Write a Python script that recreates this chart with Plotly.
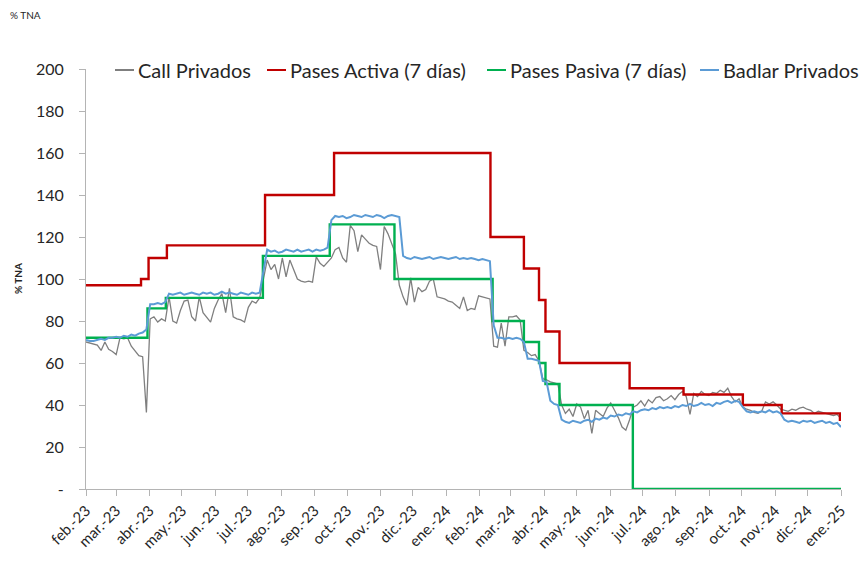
import pandas as pd
import plotly.graph_objects as go

# ---------------- data ----------------
# Call / Badlar sampled every 3.5 days from 2023-02-01 to 2025-01-01
sample_dates = pd.date_range("2023-02-01", periods=201, freq="84h")

call_privados = [
    70, 69.5, 69, 68.5, 66, 70, 66.5, 65.5, 64, 72,
    71.5, 72, 68, 66, 63.5, 63, 36.5, 81, 82, 79.5,
    81, 80, 91.5, 80, 79, 85, 89.5, 90, 82, 80,
    91.5, 84, 82, 79.5, 86, 90, 93, 84, 95.5, 82,
    81, 80.5, 79.5, 86.5, 89.5, 88.5, 91, 100, 109, 104.5,
    107, 100, 110, 101, 109, 104.5, 100, 99, 98.5, 99,
    98.5, 110.5, 107.5, 106, 108, 110, 114, 115, 110, 108,
    125.5, 123, 113, 121, 119, 117, 116, 115.5, 104.5, 125,
    121.5, 117, 112, 97, 91.5, 87.5, 100.5, 89, 96, 94,
    95, 99, 100, 91.5, 91, 90.5, 89.5, 89, 87.5, 86,
    91.5, 85, 86, 85.5, 92, 91.5, 91, 90.5, 68, 67.5,
    79, 68, 82, 82, 82.5, 80.5, 66, 65, 63.5, 64,
    61, 52.5, 52, 51, 50.5, 50, 40, 36, 38, 34.5,
    40.5, 39, 33.5, 37.5, 26.5, 37.5, 36, 34.5, 38.5, 41,
    37.5, 34, 29.5, 28, 33, 39, 40, 42, 39.5, 42.5,
    41, 43.5, 44, 42, 43, 44.5, 42.5, 45, 46.5, 44,
    35.5, 45.5, 44, 46.5, 45, 44.5, 46, 45.5, 47, 46,
    48, 44, 41.5, 43, 39, 38, 37.5, 36.5, 36, 37,
    41.5, 40.5, 41.5, 40, 38, 37.5, 37, 38, 37.5, 38.5,
    39, 38, 37.5, 36, 37, 36.5, 36, 35.5, 35, 35.5,
    33.5,
]

badlar_privados = [
    71, 70.5, 70.5, 71, 71.5, 71, 72, 72, 72.5, 72,
    73, 72.5, 73.5, 73, 74, 74.5, 76, 88, 88, 88.5,
    88, 89, 93, 92.5, 93, 93.5, 92.5, 93, 93.5, 93,
    92.5, 93.5, 93, 93.5, 92.5, 93, 94, 93, 93.5, 93,
    92.5, 93.5, 93, 92.5, 93.5, 93, 93.5, 104, 114, 113,
    113.5, 112.5, 113, 114, 113.5, 113, 114, 113, 113.5, 114,
    113, 114, 113.5, 114, 115, 128, 130, 129.5, 130, 129,
    129.5, 130.5, 130, 129.5, 130.5, 130, 129.5, 130.5, 130, 129,
    130, 130.5, 130, 129.5, 111, 110, 109.5, 110.5, 110, 109.5,
    110, 110.5, 109.5, 110, 110.5, 110, 109.5, 110, 110.5, 109.5,
    110, 109.5, 110, 109.5, 109, 109.5, 109, 108.5, 78, 72,
    72, 71.5, 72, 71.5, 72, 71.5, 70, 62, 62, 61.5,
    61, 51.5, 51, 42, 40.5, 40, 33, 32, 31.5, 32.5,
    32, 31.5, 32.5, 33, 32, 33.5, 33, 34, 33.5, 35,
    34.5, 35.5, 35, 36, 35.5, 37, 36.5, 37.5, 38, 37.5,
    38.5, 38, 39, 38.5, 39, 38.5, 39.5, 39, 40, 39.5,
    40.5, 39.5, 40, 41, 40, 40.5, 39.5, 41, 40.5, 41.5,
    42, 41, 42, 41.5, 39, 37, 36.5, 37, 36.5, 37,
    36.5, 37.5, 36.5, 37, 36, 33, 32, 32.5, 32, 31.5,
    32.5, 32, 32.5, 31.5, 32, 32.5, 31.5, 32, 31, 31.5,
    29.5,
]

# Policy rates: change dates and levels (step lines)
activa_dates = ["2023-02-01", "2023-03-24", "2023-03-31", "2023-04-17", "2023-07-17",
                "2023-09-19", "2024-02-11", "2024-03-13", "2024-03-27", "2024-04-02",
                "2024-04-15", "2024-06-19", "2024-08-08", "2024-10-02", "2024-11-07",
                "2024-12-31", "2025-01-01"]
activa_values = [97, 100, 110, 116, 140, 160, 120, 105, 90, 75, 60, 48, 45, 40, 36, 33, 33]

pasiva_dates = ["2023-02-01", "2023-03-30", "2023-04-16", "2023-07-15", "2023-09-15",
                "2023-11-14", "2024-02-13", "2024-03-13", "2024-03-27", "2024-04-02",
                "2024-04-15", "2024-06-22", "2025-01-01"]
pasiva_values = [72, 86, 91, 111, 126, 100, 80, 70, 60, 50, 40, 0, 0]

# x tick labels (monthly)
tick_dates = pd.date_range("2023-02-01", "2025-01-01", freq="MS")
month_abbr = ["ene", "feb", "mar", "abr", "may", "jun", "jul", "ago", "sep", "oct", "nov", "dic"]
tick_text = [f"{month_abbr[d.month - 1]}.-{d.strftime('%y')}" for d in tick_dates]

y_tickvals = [0, 20, 40, 60, 80, 100, 120, 140, 160, 180, 200]
y_ticktext = ["-", "20", "40", "60", "80", "100", "120", "140", "160", "180", "200"]

series_names = ["Call Privados", "Pases Activa (7 días)", "Pases Pasiva (7 días)", "Badlar Privados"]

# ---------------- figure ----------------
FONT = "Lato, Carlito, 'Open Sans', sans-serif"
TXT = "#262626"
AX = "#b4b4b4"
COLORS = ["#7f7f7f", "#c00000", "#00b050", "#5b9bd5"]

fig = go.Figure()
fig.add_trace(go.Scatter(x=sample_dates, y=call_privados, name=series_names[0],
                         mode="lines", line=dict(color=COLORS[0], width=1.3)))
fig.add_trace(go.Scatter(x=activa_dates, y=activa_values, name=series_names[1],
                         mode="lines", line=dict(color=COLORS[1], width=2.4, shape="hv")))
fig.add_trace(go.Scatter(x=pasiva_dates, y=pasiva_values, name=series_names[2],
                         mode="lines", line=dict(color=COLORS[2], width=2.4, shape="hv")))
fig.add_trace(go.Scatter(x=sample_dates, y=badlar_privados, name=series_names[3],
                         mode="lines", line=dict(color=COLORS[3], width=2)))

L, T, W, H = 86, 69, 755, 420
fig.update_layout(
    width=864, height=565,
    margin=dict(l=L, r=864 - L - W, t=T, b=565 - T - H),
    paper_bgcolor="white", plot_bgcolor="white",
    font=dict(family=FONT, color=TXT),
    showlegend=False,
)

fig.update_xaxes(
    type="date", range=["2023-02-01", "2025-01-01"],
    tickmode="array", tickvals=list(tick_dates), ticktext=tick_text,
    tickangle=-45, tickfont=dict(size=15, color=TXT, family=FONT),
    showgrid=False, zeroline=False, automargin=False,
    showline=True, linecolor=AX, linewidth=1,
    ticks="outside", ticklen=6, tickcolor=AX,
)
fig.update_yaxes(
    range=[0, 200], tickmode="array", tickvals=y_tickvals, ticktext=y_ticktext,
    tickfont=dict(size=16, color=TXT, family=FONT),
    showgrid=False, zeroline=False, automargin=False,
    showline=True, linecolor=AX, linewidth=1,
    ticks="outside", ticklen=6, tickcolor=AX, ticklabelstandoff=12,
)


def px_x(p):
    return (p - L) / W


def px_y(p):
    return (T + H - p) / H


# legend drawn as a single row across the top (pixel layout as in the reference)
legend_start = [115, 267, 487, 700]
legend_y = 70
for name, color, x0 in zip(series_names, COLORS, legend_start):
    fig.add_shape(type="line", xref="paper", yref="paper",
                  x0=px_x(x0), x1=px_x(x0 + 19), y0=px_y(legend_y), y1=px_y(legend_y),
                  line=dict(color=color, width=2))
    fig.add_annotation(text=name, xref="paper", yref="paper",
                       x=px_x(x0 + 21), y=px_y(legend_y), xanchor="left", yanchor="middle",
                       showarrow=False, font=dict(size=20, color=TXT, family=FONT))

# y-axis title and top-left unit label
fig.add_annotation(text="<b>% TNA</b>", xref="paper", yref="paper",
                   x=px_x(18), y=0.5, xanchor="center", yanchor="middle",
                   textangle=-90, showarrow=False, font=dict(size=10, color=TXT, family=FONT))
fig.add_annotation(text="% TNA", xref="paper", yref="paper",
                   x=px_x(8), y=px_y(15), xanchor="left", yanchor="middle",
                   showarrow=False, font=dict(size=10, color=TXT, family=FONT))

fig.write_html("out.html", config={"displayModeBar": False},
               post_script="document.body.style.margin='0';")
